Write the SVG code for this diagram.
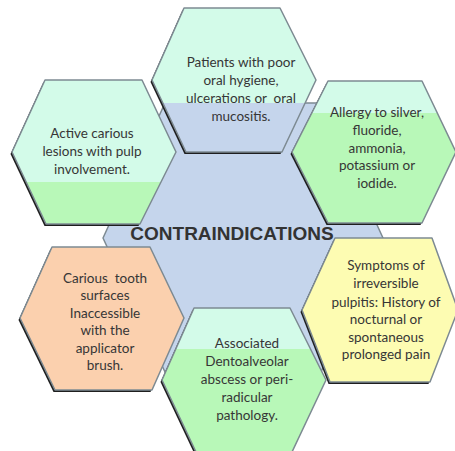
<svg xmlns="http://www.w3.org/2000/svg" width="455" height="451" viewBox="0 0 455 451">
<defs>
<linearGradient id="gTop" x1="0" y1="0" x2="0" y2="1"><stop offset="0.66" stop-color="#d3fbe9"/><stop offset="0.66" stop-color="#c5d5ec"/></linearGradient>
<linearGradient id="gLeft" x1="0" y1="0" x2="0" y2="1"><stop offset="0.708" stop-color="#d3fbe9"/><stop offset="0.708" stop-color="#b8f8b8"/></linearGradient>
<linearGradient id="gRight" x1="0" y1="0" x2="0" y2="1"><stop offset="0.225" stop-color="#d3fbe9"/><stop offset="0.225" stop-color="#b8f8b8"/></linearGradient>
<linearGradient id="gBot" x1="0" y1="0" x2="0" y2="1"><stop offset="0.285" stop-color="#d3fbe9"/><stop offset="0.285" stop-color="#b8f8b8"/></linearGradient>
</defs>
<style>
.hex{stroke:#7d8a92;stroke-width:1.5;stroke-linejoin:round}
.sh{fill:#1e1e1e}
.t{font-family:Lato,"Open Sans",sans-serif;font-size:13.5px;fill:#363636;text-anchor:middle;white-space:pre}
.title{font-family:"Liberation Sans",Arial,sans-serif;font-size:19px;font-weight:bold;fill:#333;text-anchor:middle}
</style>
<rect width="455" height="451" fill="#ffffff"/>
<g id="center">
<polygon class="hex" fill="#c5d5ec" points="103,238 165,103 321,103 383,238 321,372 165,372"/>
<text class="title" x="232" y="240">CONTRAINDICATIONS</text>
</g>
<g id="node-top">
<polygon class="sh" points="150.5,82 182.5,10 278.5,10 314.5,82 280.5,154 184.5,154"/>
<polygon class="hex" fill="url(#gTop)" points="152,80 184,8 280,8 316,80 282,152 186,152"/>
<text class="t" x="241" y="67">Patients with poor</text>
<text class="t" x="241" y="85">oral hygiene,</text>
<text class="t" x="241" y="103" xml:space="preserve">ulcerations or  oral</text>
<text class="t" x="241" y="121">mucositis.</text>
</g>
<g id="node-left">
<polygon class="sh" points="10.5,154 43.5,82 140.5,82 174.5,154 138.5,226 44.5,226"/>
<polygon class="hex" fill="url(#gLeft)" points="12,152 45,80 142,80 176,152 140,224 46,224"/>
<text class="t" x="92" y="138">Active carious</text>
<text class="t" x="92" y="156">lesions with pulp</text>
<text class="t" x="92" y="174">involvement.</text>
</g>
<g id="node-right">
<polygon class="sh" points="290.5,154 326.5,83 420.5,83 454.5,154 420.5,225 326.5,225"/>
<polygon class="hex" fill="url(#gRight)" points="292,152 328,81 422,81 456,152 422,223 328,223"/>
<text class="t" x="377" y="117">Allergy to silver,</text>
<text class="t" x="377" y="135">fluoride,</text>
<text class="t" x="377" y="153">ammonia,</text>
<text class="t" x="377" y="170">potassium or</text>
<text class="t" x="377" y="188">iodide.</text>
</g>
<g id="node-orange">
<polygon class="sh" points="18.5,320 50.5,249 148.5,249 182.5,320 150.5,392 53.5,392"/>
<polygon class="hex" fill="#fbd0ae" points="20,318 52,247 150,247 184,318 152,390 55,390"/>
<text class="t" x="105" y="283" xml:space="preserve">Carious  tooth</text>
<text class="t" x="105" y="300">surfaces</text>
<text class="t" x="105" y="318">Inaccessible</text>
<text class="t" x="105" y="335">with the</text>
<text class="t" x="105" y="353">applicator</text>
<text class="t" x="105" y="370">brush.</text>
</g>
<g id="node-yellow">
<polygon class="sh" points="300.5,312 333.5,240 430.5,240 456.5,312 428.5,384 328.5,384"/>
<polygon class="hex" fill="#fdfcb2" points="302,310 335,238 432,238 458,310 430,382 330,382"/>
<text class="t" x="386" y="270">Symptoms of</text>
<text class="t" x="386" y="288">irreversible</text>
<text class="t" x="386" y="307">pulpitis: History of</text>
<text class="t" x="386" y="324">nocturnal or</text>
<text class="t" x="386" y="342">spontaneous</text>
<text class="t" x="386" y="359">prolonged pain</text>
</g>
<g id="node-bottom">
<polygon class="sh" points="160.5,382 192.5,310 288.5,310 324.5,382 290.5,454 194.5,454"/>
<polygon class="hex" fill="url(#gBot)" points="162,380 194,308 290,308 326,380 292,452 196,452"/>
<text class="t" x="247" y="348">Associated</text>
<text class="t" x="247" y="366">Dentoalveolar</text>
<text class="t" x="247" y="384">abscess or peri-</text>
<text class="t" x="247" y="402">radicular</text>
<text class="t" x="247" y="420">pathology.</text>
</g>
<g id="connectors"/>
</svg>
